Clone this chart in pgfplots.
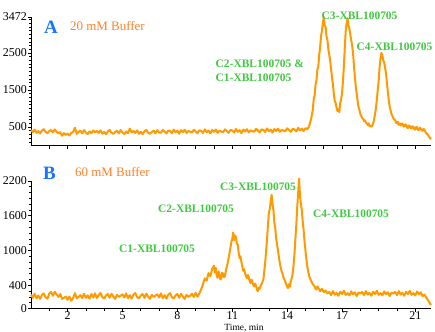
\documentclass[border=0pt]{standalone}
\usepackage{pgfplots}
\pgfplotsset{compat=1.18}
\usepackage{fontspec}
\setmainfont{Liberation Serif}
\definecolor{lineor}{RGB}{255,154,0}
\definecolor{titor}{RGB}{255,128,40}
\definecolor{lblgr}{RGB}{64,200,64}
\definecolor{lblbl}{RGB}{25,115,255}
\begin{document}
\begin{tikzpicture}
\useasboundingbox (0,0) rectangle (435bp,-332bp);
\pgfplotsset{
  every axis/.append style={
    scale only axis, width=400bp, xmin=0, xmax=21.86,
    axis lines=left, axis line style={-, black, line width=0.8pt},
    tick align=outside, major tick length=3bp, minor tick length=2bp,
    tick style={black, line width=0.6pt},
    clip=false, scaled y ticks=false,
    /pgf/number format/1000 sep={},
    /pgf/number format/assume math mode=true,
    tick label style={font=\fontsize{12}{12}\selectfont},
    yticklabel style={inner xsep=1bp},
    xticklabel style={inner ysep=0.3bp},
  },
}
% ---------------- Panel A ----------------
\begin{axis}[at={(31bp,-17bp)}, anchor=north west, height=128.5bp,
  ymin=0, ymax=3472,
  ytick={500,1500,2500,3472}, minor ytick={100,200,...,3400},
  xtick={1,2,...,21}, xticklabels={}]
\addplot[lineor, line width=2bp, line join=round] coordinates {
(0.0,415)(0.1,360)(0.2,430)(0.3,340)(0.4,390)(0.5,325)(0.6,405)(0.7,440)(0.8,365)(0.9,335)
(1.0,385)(1.1,420)(1.2,350)(1.3,435)(1.4,370)(1.5,330)(1.6,360)(1.7,265)(1.8,335)(1.9,285)
(2.0,325)(2.1,270)(2.2,340)(2.3,360)(2.4,480)(2.5,315)(2.6,370)(2.7,400)(2.8,330)(2.9,415)
(3.0,350)(3.1,310)(3.2,380)(3.3,335)(3.4,405)(3.5,355)(3.6,395)(3.7,340)(3.8,410)(3.9,320)
(4.0,370)(4.1,305)(4.2,385)(4.3,420)(4.4,345)(4.5,315)(4.6,365)(4.7,400)(4.8,330)(4.9,415)
(5.0,350)(5.1,310)(5.2,380)(5.3,335)(5.4,455)(5.5,355)(5.6,395)(5.7,340)(5.8,410)(5.9,320)
(6.0,370)(6.1,305)(6.2,385)(6.3,420)(6.4,345)(6.5,315)(6.6,365)(6.7,400)(6.8,330)(6.9,415)
(7.0,350)(7.1,345)(7.2,420)(7.3,375)(7.4,325)(7.5,405)(7.6,390)(7.7,335)(7.8,430)(7.9,355)
(8.0,400)(8.1,320)(8.2,415)(8.3,365)(8.4,425)(8.5,340)(8.6,395)(8.7,370)(8.8,350)(8.9,425)
(9.0,380)(9.1,330)(9.2,410)(9.3,395)(9.4,340)(9.5,435)(9.6,360)(9.7,405)(9.8,325)(9.9,420)
(10.0,370)(10.1,430)(10.2,345)(10.3,400)(10.4,375)(10.5,360)(10.6,435)(10.7,390)(10.8,340)(10.9,420)
(11.0,405)(11.1,350)(11.2,445)(11.3,370)(11.4,415)(11.5,335)(11.6,430)(11.7,380)(11.8,440)(11.9,355)
(12.0,410)(12.1,385)(12.2,375)(12.3,450)(12.4,405)(12.5,355)(12.6,435)(12.7,420)(12.8,365)(12.9,460)
(13.0,385)(13.1,430)(13.2,350)(13.3,445)(13.4,395)(13.5,455)(13.6,370)(13.7,425)(13.8,400)(13.9,390)
(14.0,465)(14.1,420)(14.2,370)(14.3,450)(14.4,435)(14.5,380)(14.6,480)(14.7,410)(14.8,455)(14.9,390)
(15.0,470)(15.1,440)(15.2,520)(15.3,700)(15.4,960)(15.45,1250)(15.5,1350)(15.55,1650)(15.6,1750)(15.65,2050)(15.7,2120)
(15.75,2450)(15.8,2650)(15.85,2950)(15.9,3100)(15.95,3300)(16.0,3470)(16.05,3250)(16.1,3200)(16.15,2950)(16.2,2850)
(16.25,2600)(16.3,2450)(16.35,2300)(16.4,2050)(16.45,1850)(16.5,1650)(16.55,1400)(16.6,1200)(16.65,1150)(16.7,1020)(16.75,930)(16.8,980)(16.85,900)
(16.9,1150)(16.95,1250)(17.0,1420)(17.05,1750)(17.1,2150)(17.15,2660)(17.2,3100)(17.25,3300)(17.3,3440)(17.35,3250)(17.4,3150)
(17.45,3000)(17.5,2850)(17.55,2700)(17.6,2500)(17.65,2150)(17.7,1850)(17.75,1600)(17.8,1400)(17.85,1200)(17.9,1040)(17.95,950)
(18.0,850)(18.05,800)(18.1,740)(18.15,720)(18.2,660)(18.25,680)(18.3,620)(18.35,590)(18.4,560)(18.45,600)(18.5,520)(18.55,540)(18.6,510)
(18.65,540)(18.7,600)(18.75,700)(18.8,850)(18.85,1000)(18.9,1230)(18.95,1500)(19.0,1750)(19.05,2120)(19.1,2350)(19.15,2500)(19.2,2450)
(19.25,2300)(19.3,2250)(19.35,2100)(19.4,1960)(19.45,1700)(19.5,1450)(19.55,1230)(19.6,1050)(19.65,950)(19.7,850)(19.75,800)(19.8,740)
(19.85,700)(19.9,680)(19.95,620)(20.0,600)(20.05,640)(20.1,560)(20.15,590)(20.2,540)(20.25,600)(20.3,590)(20.35,520)(20.4,510)(20.45,570)
(20.5,560)(20.55,490)(20.6,470)(20.65,540)(20.7,530)(20.75,470)(20.8,460)(20.85,520)(20.9,500)(20.95,440)(21.0,430)(21.05,500)(21.1,490)
(21.15,420)(21.2,420)(21.25,480)(21.3,460)(21.35,400)(21.4,400)(21.45,450)(21.5,430)(21.55,380)(21.6,330)(21.65,320)(21.7,280)(21.75,240)(21.8,210)(21.86,170)
};
\end{axis}
% ---------------- Panel B ----------------
\begin{axis}[at={(31bp,-181bp)}, anchor=north west, height=127.5bp,
  ymin=0, ymax=2200,
  ytick={0,400,1000,1600,2200}, minor ytick={100,200,...,2100},
  xtick={2,5,8,11,14,17,21}, minor xtick={1,2,...,21}]
\addplot[lineor, line width=2bp, line join=round] coordinates {
(0.0,240)(0.1,185)(0.2,255)(0.3,175)(0.4,225)(0.5,165)(0.6,235)(0.7,260)(0.8,190)(0.9,170)
(1.0,260)(1.1,285)(1.2,220)(1.3,290)(1.4,240)(1.5,200)(1.6,250)(1.7,165)(1.8,185)(1.9,205)
(2.0,150)(2.1,205)(2.2,135)(2.3,180)(2.4,265)(2.5,175)(2.6,200)(2.7,230)(2.8,180)(2.9,255)
(3.0,185)(3.1,225)(3.2,170)(3.3,250)(3.4,190)(3.5,260)(3.6,180)(3.7,230)(3.8,270)(3.9,195)
(4.0,175)(4.1,225)(4.2,250)(4.3,185)(4.4,255)(4.5,205)(4.6,165)(4.7,235)(4.8,200)(4.9,220)
(5.0,245)(5.1,190)(5.2,260)(5.3,180)(5.4,230)(5.5,170)(5.6,240)(5.7,265)(5.8,195)(5.9,175)
(6.0,225)(6.1,250)(6.2,185)(6.3,255)(6.4,205)(6.5,165)(6.6,235)(6.7,200)(6.8,220)(6.9,245)
(7.0,190)(7.1,260)(7.2,180)(7.3,230)(7.4,170)(7.5,240)(7.6,265)(7.7,195)(7.8,175)(7.9,225)
(8.0,250)(8.1,185)(8.2,255)(8.3,205)(8.4,165)(8.5,235)(8.6,200)(8.7,220)(8.8,255)(8.9,200)
(9.0,270)(9.1,205)(9.2,260)(9.3,330)(9.4,420)(9.5,520)(9.6,480)(9.7,610)(9.8,560)(9.9,680)
(10.0,740)(10.05,620)(10.1,700)(10.15,560)(10.2,530)(10.25,640)(10.3,590)(10.35,500)(10.4,520)(10.45,620)(10.5,600)(10.55,540)(10.6,560)(10.65,650)
(10.7,720)(10.75,780)(10.8,870)(10.85,960)(10.9,1050)(10.95,1150)(11.0,1200)(11.05,1310)(11.1,1180)(11.15,1260)(11.2,1230)(11.25,1120)(11.3,1100)
(11.35,960)(11.4,870)(11.45,900)(11.5,800)(11.55,720)(11.6,650)(11.65,680)(11.7,600)(11.75,560)(11.8,520)(11.85,580)(11.9,540)(11.95,470)
(12.0,440)(12.05,500)(12.1,460)(12.15,400)(12.2,380)(12.25,430)(12.3,390)(12.35,320)(12.4,300)(12.45,360)(12.5,340)(12.55,390)(12.6,420)
(12.65,460)(12.7,500)(12.75,650)(12.8,800)(12.85,1000)(12.9,1200)(12.95,1450)(13.0,1650)(13.05,1720)(13.1,1850)(13.15,1960)(13.2,1800)
(13.25,1700)(13.3,1480)(13.35,1380)(13.4,1200)(13.45,1100)(13.5,1000)(13.55,880)(13.6,780)(13.65,700)(13.7,640)(13.75,600)(13.8,530)
(13.85,500)(13.9,460)(13.95,420)(14.0,380)(14.05,350)(14.1,420)(14.15,380)(14.2,480)(14.25,520)(14.3,600)(14.35,750)(14.4,950)(14.45,1200)
(14.5,1450)(14.55,1750)(14.6,2000)(14.65,2240)(14.7,1950)(14.75,1800)(14.8,1700)(14.85,1500)(14.9,1350)(14.95,1150)(15.0,1000)(15.05,850)
(15.1,720)(15.15,640)(15.2,560)(15.25,520)(15.3,480)(15.35,450)(15.4,420)(15.45,400)(15.5,380)(15.55,340)(15.6,330)(15.65,380)(15.7,360)
(15.8,300)(15.9,340)(16.0,280)(16.1,310)(16.2,260)(16.3,285)(16.4,230)(16.5,300)(16.6,240)(16.7,270)(16.8,220)(16.9,290)
(17.0,250)(17.1,305)(17.2,235)(17.3,265)(17.4,225)(17.5,295)(17.6,245)(17.7,280)(17.8,215)(17.9,275)
(18.0,260)(18.1,285)(18.2,230)(18.3,300)(18.4,240)(18.5,270)(18.6,220)(18.7,290)(18.8,250)(18.9,305)
(19.0,235)(19.1,265)(19.2,225)(19.3,295)(19.4,245)(19.5,280)(19.6,215)(19.7,275)(19.8,260)(19.9,285)
(20.0,230)(20.1,300)(20.2,240)(20.3,270)(20.4,220)(20.5,290)(20.6,250)(20.7,305)(20.8,235)(20.9,265)
(21.0,225)(21.1,295)(21.2,245)(21.3,280)(21.4,215)(21.5,240)(21.6,190)(21.7,140)(21.8,90)(21.86,60)
};
\end{axis}
% ---------------- Labels ----------------
\tikzset{lab/.style={anchor=west, inner sep=0pt, text=lblgr, font=\fontsize{11.5}{11.5}\selectfont\bfseries}}
\node[anchor=west, inner sep=0pt, text=lblbl, font=\fontsize{19}{19}\selectfont\bfseries] at (44bp,-27bp) {A};
\node[anchor=west, inner sep=0pt, text=titor, font=\fontsize{13}{13}\selectfont] at (70bp,-26bp) {20 mM Buffer};
\node[lab] at (215.5bp,-64bp) {C2-XBL100705 \&};
\node[lab] at (215.5bp,-78bp) {C1-XBL100705};
\node[lab] at (321.5bp,-16bp) {C3-XBL100705};
\node[lab] at (356.5bp,-47bp) {C4-XBL100705};
\node[anchor=west, inner sep=0pt, text=lblbl, font=\fontsize{19}{19}\selectfont\bfseries] at (43bp,-173bp) {B};
\node[anchor=west, inner sep=0pt, text=titor, font=\fontsize{13}{13}\selectfont] at (75bp,-172bp) {60 mM Buffer};
\node[lab] at (158bp,-209bp) {C2-XBL100705};
\node[lab] at (119bp,-249bp) {C1-XBL100705};
\node[lab] at (220bp,-187bp) {C3-XBL100705};
\node[lab] at (313bp,-214bp) {C4-XBL100705};
\node[anchor=south, inner sep=0pt, font=\fontsize{9.5}{9.5}\selectfont] at (244bp,-332bp) {Time, min};
\end{tikzpicture}
\end{document}
